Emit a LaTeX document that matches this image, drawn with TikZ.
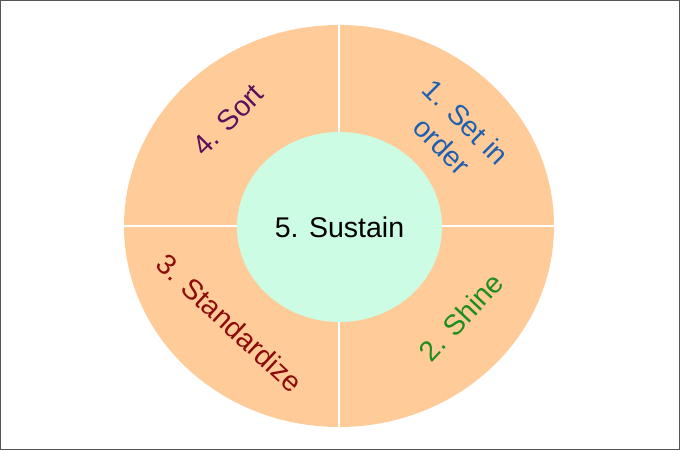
\documentclass[tikz,border=0pt]{standalone}
\usepackage{fontspec}
\setmainfont{Liberation Sans}
\usetikzlibrary{shapes.geometric}
\definecolor{peach}{HTML}{FFCC99}
\definecolor{mint}{HTML}{CCFCE4}
\definecolor{framegray}{HTML}{555555}
\definecolor{setblue}{HTML}{1F5FAF}
\definecolor{shinegreen}{HTML}{1E8C1E}
\definecolor{stdred}{HTML}{8C0A0A}
\definecolor{sortpurple}{HTML}{5C0F5C}

\begin{document}
\begin{tikzpicture}[
  x=1pt, y=-1pt,
  font=\fontsize{28.5}{34}\selectfont,
  ring/.style={ellipse, fill=peach, inner sep=0pt,
    minimum width=430pt, minimum height=402pt},
  core/.style={ellipse, fill=mint, inner sep=0pt,
    minimum width=205pt, minimum height=190pt},
  divider/.style={draw=white, line width=2pt},
  phase/.style={align=center, inner sep=0pt}
]
\useasboundingbox (0,0) rectangle (680,450);
\draw[framegray, line width=1pt] (0.5,0.5) rectangle (679.5,449.5);
\node[ring] (ring) at (339,226) {};
\draw[divider] (ring.north) -- (ring.south);
\draw[divider] (ring.west) -- (ring.east);
\node[core] (core) at (339.5,227) {5. Sustain};
\node[phase, text=setblue, rotate=-45] (set) at (454,134) {1. Set in\\order};
\node[phase, text=shinegreen, rotate=47] (shine) at (461,317) {2. Shine};
\node[phase, text=stdred, rotate=-43] (standardize) at (230,323) {3. Standardize};
\node[phase, text=sortpurple, rotate=45] (sort) at (228,120) {4. Sort};
\end{tikzpicture}
\end{document}
